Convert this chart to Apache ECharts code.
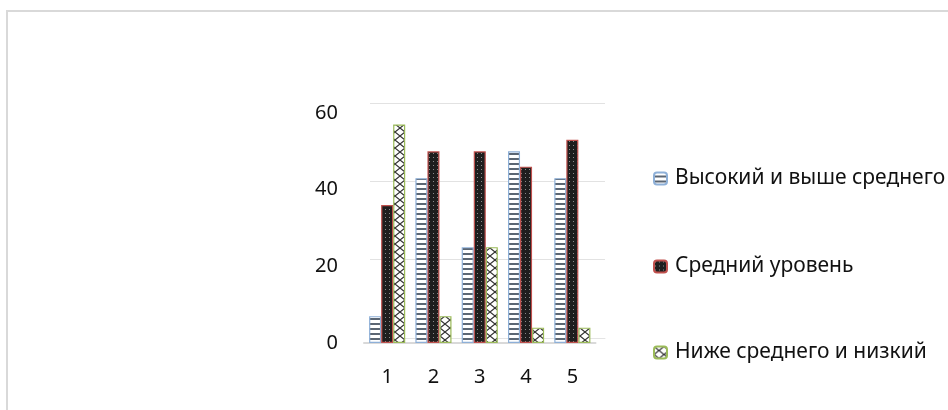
<!DOCTYPE html>
<html>
<head>
<meta charset="utf-8">
<script src="https://cdn.jsdelivr.net/npm/echarts@6/dist/echarts.min.js"></script>
<style>
html,body{margin:0;padding:0;background:#fff;}
#chart{width:948px;height:410px;}
</style>
</head>
<body>
<div id="chart"></div>
<script>
// ---- data ----
var categories = ['1', '2', '3', '4', '5'];
var seriesNames = ['Высокий и выше среднего', 'Средний уровень', 'Ниже среднего и низкий'];
var highValues = [7, 43, 25, 50, 43];
var midValues = [36, 50, 50, 46, 53];
var lowValues = [57, 7, 25, 4, 4];
var yTicks = [0, 20, 40, 60];

// ---- patterns ----
function makeCanvas(w, h, draw) {
  var c = document.createElement('canvas');
  c.width = w; c.height = h;
  draw(c.getContext('2d'));
  return c;
}
var bluePat = makeCanvas(4, 5, function (g) {
  g.fillStyle = '#ffffff'; g.fillRect(0, 0, 4, 5);
  g.fillStyle = '#5b6673'; g.fillRect(0, 3, 4, 2);
});
var redPat = makeCanvas(4, 4, function (g) {
  g.fillStyle = '#1e1e1e'; g.fillRect(0, 0, 4, 4);
  g.fillStyle = '#8a8a8a'; g.fillRect(1, 1, 1, 1);
});
var greenPat = makeCanvas(10, 8, function (g) {
  g.fillStyle = '#ffffff'; g.fillRect(0, 0, 10, 8);
  g.strokeStyle = '#333333'; g.lineWidth = 1.2;
  g.beginPath(); g.moveTo(0, 0); g.lineTo(10, 8); g.moveTo(10, 0); g.lineTo(0, 8); g.stroke();
});

var font = 'Noto Sans';
var chart = echarts.init(document.getElementById('chart'), null, {renderer: 'canvas'});

function legendAt(name, top) {
  return {
    data: [name], orient: 'vertical', left: 653, top: top, padding: 0,
    itemWidth: 13, itemHeight: 12, itemGap: 0,
    textStyle: {fontFamily: font, fontSize: 21, color: '#111111', padding: [0, 0, 0, 3]},
    selectedMode: false
  };
}

chart.setOption({
  backgroundColor: '#ffffff',
  animation: false,
  graphic: [{
    type: 'rect', silent: true, z: -10,
    shape: {x: 7, y: 11, width: 960, height: 420},
    style: {fill: 'none', stroke: '#d9d9d9', lineWidth: 2}
  }],
  legend: [
    legendAt(seriesNames[0], 168),
    legendAt(seriesNames[1], 256),
    legendAt(seriesNames[2], 342)
  ],
  grid: [
    {left: 364, top: 113, width: 231.5, height: 230, containLabel: false},
    {left: 370, top: 103, width: 235, height: 235, containLabel: false}
  ],
  xAxis: [
    {
      type: 'category', data: categories, gridIndex: 0,
      axisLine: {show: true, lineStyle: {color: '#d9d9d9', width: 2}},
      axisTick: {show: false},
      axisLabel: {fontFamily: font, fontSize: 20, color: '#111111', margin: 24},
      splitLine: {show: false}
    },
    {
      type: 'category', data: categories, gridIndex: 1, show: true,
      axisLine: {show: true, lineStyle: {color: '#e4e4e4', width: 1}},
      axisTick: {show: false}, axisLabel: {show: false}, splitLine: {show: false}
    }
  ],
  yAxis: [
    {
      type: 'value', gridIndex: 0, min: 0, max: 60, interval: 20,
      axisLine: {show: false}, axisTick: {show: false},
      axisLabel: {fontFamily: font, fontSize: 20, color: '#111111', margin: 26,
        formatter: function (v) { return yTicks.indexOf(v) >= 0 ? String(v) : ''; }},
      splitLine: {show: false}
    },
    {
      type: 'value', gridIndex: 1, min: 0, max: 60, interval: 20,
      axisLine: {show: false}, axisTick: {show: false}, axisLabel: {show: false},
      splitLine: {show: true, lineStyle: {color: '#e2e2e2', width: 1}}
    }
  ],
  series: [
    {
      name: seriesNames[0], type: 'bar', data: highValues, xAxisIndex: 0, yAxisIndex: 0,
      barGap: '0%', barCategoryGap: '22%',
      itemStyle: {color: {image: bluePat, repeat: 'repeat'}, borderColor: '#8eb0d8', borderWidth: 1.2}
    },
    {
      name: seriesNames[1], type: 'bar', data: midValues, xAxisIndex: 0, yAxisIndex: 0,
      barGap: '0%', barCategoryGap: '22%',
      itemStyle: {color: {image: redPat, repeat: 'repeat'}, borderColor: '#c0504d', borderWidth: 1.2}
    },
    {
      name: seriesNames[2], type: 'bar', data: lowValues, xAxisIndex: 0, yAxisIndex: 0,
      barGap: '0%', barCategoryGap: '22%',
      itemStyle: {color: {image: greenPat, repeat: 'repeat'}, borderColor: '#9bbb59', borderWidth: 1.2}
    }
  ]
});
</script>
</body>
</html>
